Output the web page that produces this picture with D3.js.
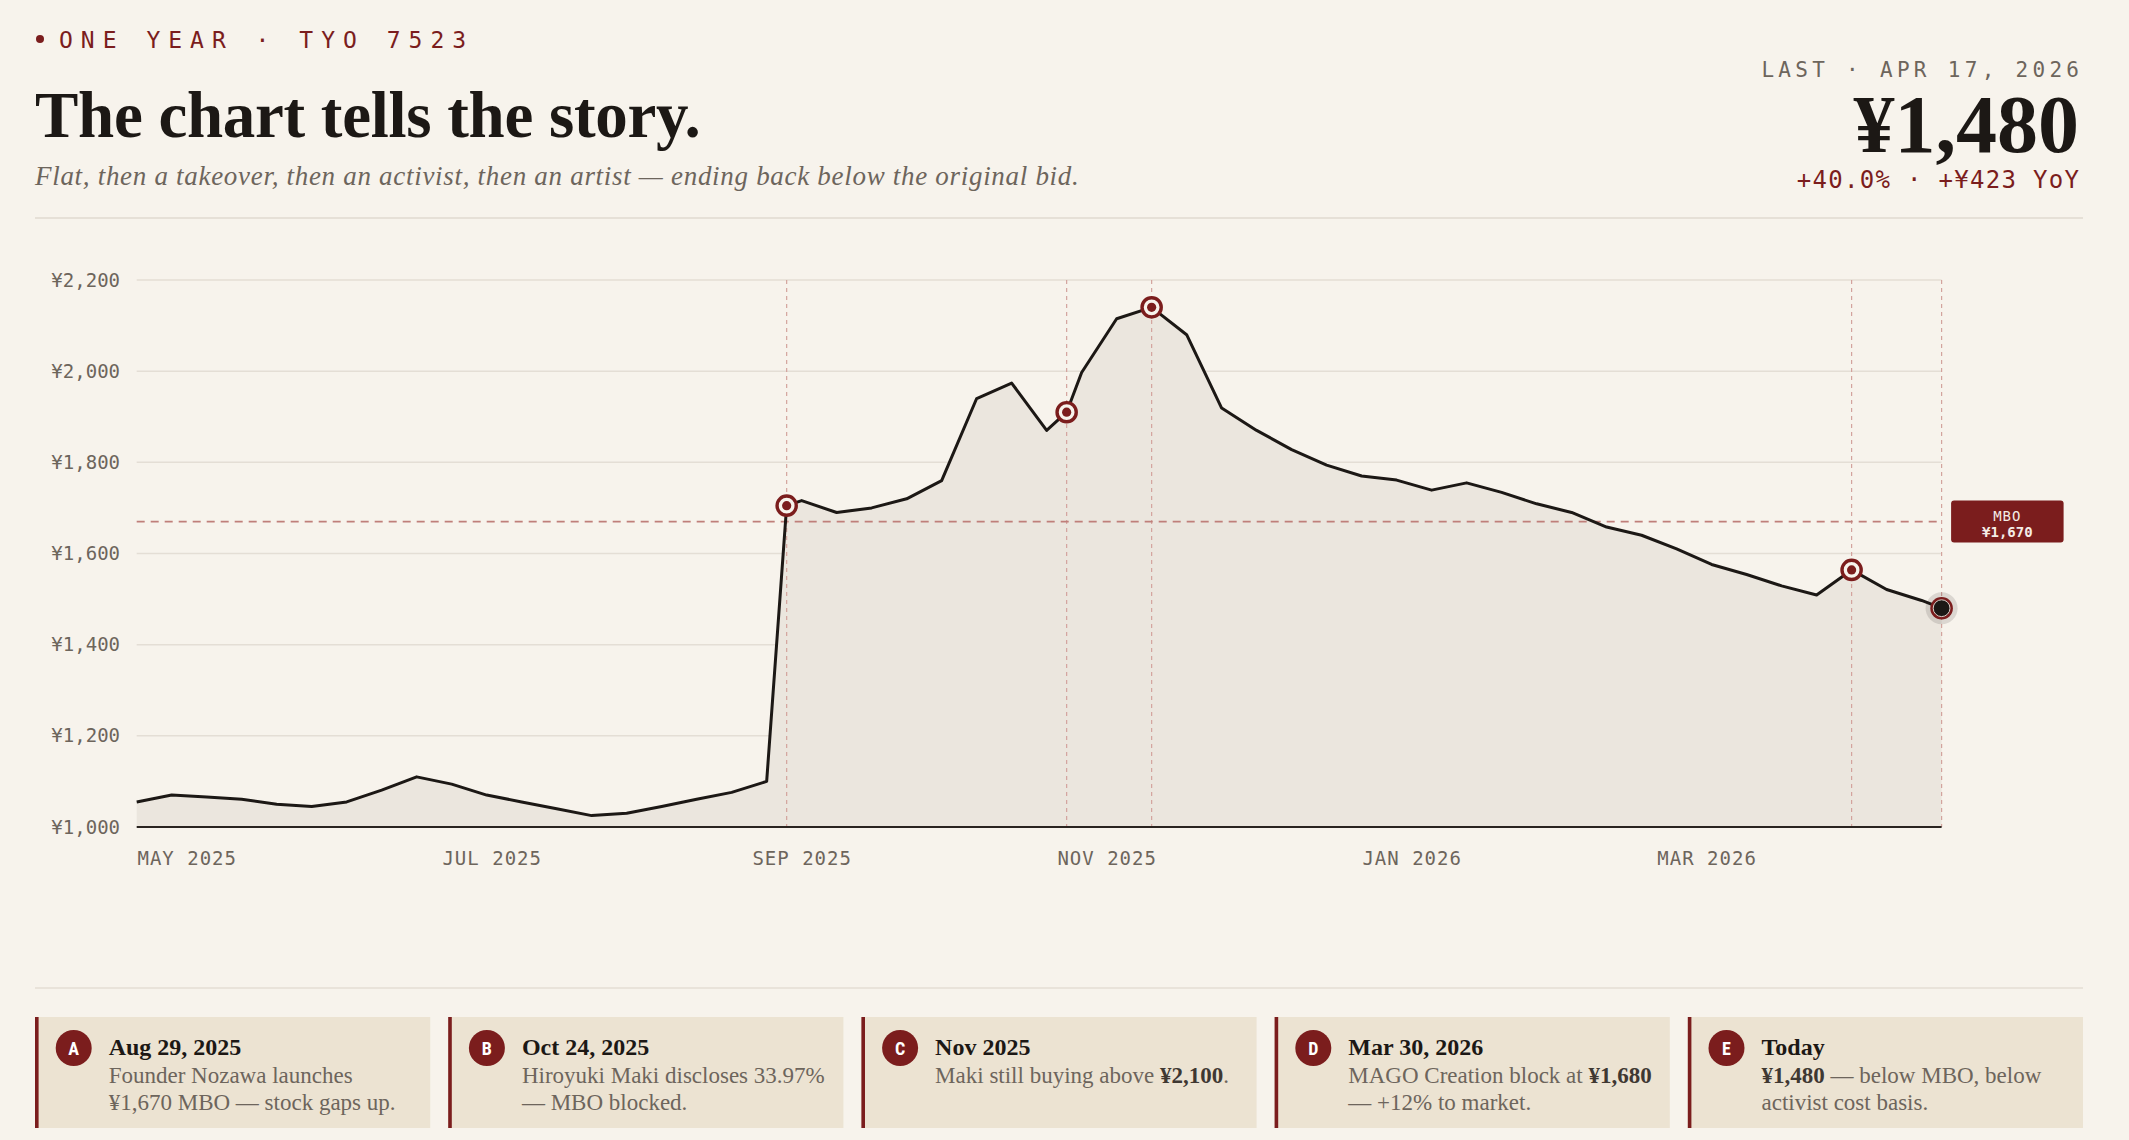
<!DOCTYPE html>
<html>
<head>
<meta charset="utf-8">
<script src="https://cdn.jsdelivr.net/npm/d3@7"></script>
<style>
  html, body { margin: 0; background: #f7f3ec; }
  svg { display: block; }
</style>
</head>
<body>
<svg id="chart" width="2129" height="1140"></svg>
<script>

// weekly closes (Mondays) plus the event days
const dates = [
  "2025-04-21","2025-04-28","2025-05-05","2025-05-12","2025-05-19","2025-05-26",
  "2025-06-02","2025-06-09","2025-06-16","2025-06-23","2025-06-30","2025-07-07",
  "2025-07-14","2025-07-21","2025-07-28","2025-08-04","2025-08-11","2025-08-18",
  "2025-08-25","2025-08-29","2025-09-01","2025-09-08","2025-09-15","2025-09-22",
  "2025-09-29","2025-10-06","2025-10-13","2025-10-20","2025-10-24","2025-10-27",
  "2025-11-03","2025-11-10","2025-11-17","2025-11-24","2025-12-01","2025-12-08",
  "2025-12-15","2025-12-22","2025-12-29","2026-01-05","2026-01-12","2026-01-19",
  "2026-01-26","2026-02-02","2026-02-09","2026-02-16","2026-02-23","2026-03-02",
  "2026-03-09","2026-03-16","2026-03-23","2026-03-30","2026-04-06","2026-04-13",
  "2026-04-17"
];
const prices = [
  1055,1070,1066,1061,1050,1045,
  1055,1081,1110,1094,1070,1055,
  1040,1025,1030,1045,1061,1076,
  1100,1705,1716,1690,1700,1720,
  1760,1940,1974,1870,1910,1997,
  2115,2140,2080,1919,1870,1828,
  1794,1770,1761,1739,1755,1734,
  1709,1690,1658,1640,1610,1576,
  1554,1529,1509,1564,1521,1497,
  1480
];

const yTicks = [1000, 1200, 1400, 1600, 1800, 2000, 2200];
const monthTicks = ["2025-05-01","2025-07-01","2025-09-01","2025-11-01","2026-01-01","2026-03-01"];
const mboPrice = 1670;

// annotated dates (A-D marked on the line, E = last close)
const eventDates = ["2025-08-29","2025-10-24","2025-11-10","2026-03-30"];

const cardLetters = ["A","B","C","D","E"];
const cardTitles = ["Aug 29, 2025","Oct 24, 2025","Nov 2025","Mar 30, 2026","Today"];
const cardLines = [
  ["Founder Nozawa launches", "¥1,670 MBO — stock gaps up."],
  ["Hiroyuki Maki discloses 33.97%", "— MBO blocked."],
  ["Maki still buying above **¥2,100**."],
  ["MAGO Creation block at **¥1,680**", "— +12% to market."],
  ["**¥1,480** — below MBO, below", "activist cost basis."]
];

const header = {
  kicker: "ONE YEAR · TYO 7523",
  title: "The chart tells the story.",
  sub: "Flat, then a takeover, then an activist, then an artist — ending back below the original bid.",
  lastLabel: "LAST · APR 17, 2026",
  last: "¥1,480",
  change: "+40.0% · +¥423 YoY"
};

// ---- styling
const RED = "#7b1d1d";
const INK = "#1c1815";
const GREY = "#6d655c";
const MONO = "'DejaVu Sans Mono', 'Liberation Mono', monospace";
const SERIF = "'Liberation Serif', 'DejaVu Serif', serif";

const svg = d3.select("#chart");

const parse = d3.timeParse("%Y-%m-%d");
const series = dates.map((d, i) => ({ date: parse(d), value: prices[i] }));

const plot = { left: 136.7, right: 1941.6, top: 280, bottom: 827 };

const x = d3.scaleTime()
  .domain(d3.extent(series, d => d.date))
  .range([plot.left, plot.right]);

const y = d3.scaleLinear()
  .domain([1000, 2200])
  .range([plot.bottom, plot.top]);

// ---- header
svg.append("circle").attr("cx", 40).attr("cy", 39).attr("r", 4).attr("fill", RED);
svg.append("text")
  .attr("x", 59).attr("y", 48)
  .style("font-family", MONO).style("font-size", "23px")
  .style("letter-spacing", "8px").attr("fill", RED)
  .text(header.kicker);

svg.append("text")
  .attr("x", 35).attr("y", 137)
  .style("font-family", SERIF).style("font-weight", 700).style("font-size", "65px")
  .style("letter-spacing", "-0.3px")
  .attr("fill", INK)
  .text(header.title);

svg.append("text")
  .attr("x", 35).attr("y", 185)
  .style("font-family", SERIF).style("font-style", "italic").style("font-size", "27px")
  .style("letter-spacing", "0.7px")
  .attr("fill", GREY)
  .text(header.sub);

svg.append("text")
  .attr("x", 2079 + 4.3).attr("y", 77)
  .attr("text-anchor", "end")
  .style("font-family", MONO).style("font-size", "21px").style("letter-spacing", "4.3px")
  .attr("fill", GREY)
  .text(header.lastLabel);

svg.append("text")
  .attr("x", 2079).attr("y", 152)
  .attr("text-anchor", "end")
  .style("font-family", SERIF).style("font-weight", 700).style("font-size", "82px")
  .attr("fill", INK)
  .text(header.last);

svg.append("text")
  .attr("x", 2079 + 1.3).attr("y", 188)
  .attr("text-anchor", "end")
  .style("font-family", MONO).style("font-size", "24px").style("letter-spacing", "1.3px")
  .attr("fill", RED)
  .text(header.change);

svg.append("line")
  .attr("x1", 35).attr("x2", 2083).attr("y1", 218).attr("y2", 218)
  .attr("stroke", "#e6e0d7").attr("stroke-width", 2);

// ---- grid + y axis
svg.append("g")
  .selectAll("line")
  .data(yTicks.filter(d => d !== 1000))
  .join("line")
  .attr("x1", plot.left).attr("x2", plot.right)
  .attr("y1", d => y(d)).attr("y2", d => y(d))
  .attr("stroke", "#e4ded5").attr("stroke-width", 1.5);

svg.append("g")
  .attr("transform", `translate(${plot.left},0)`)
  .call(d3.axisLeft(y).tickValues(yTicks).tickSize(0).tickPadding(16.7)
    .tickFormat(d => "¥" + d3.format(",")(d)))
  .call(g => g.select(".domain").remove())
  .selectAll("text")
  .style("font-family", MONO).style("font-size", "19px")
  .attr("fill", GREY);

// ---- area + line
svg.append("path")
  .datum(series)
  .attr("fill", "#ebe6de")
  .attr("d", d3.area().x(d => x(d.date)).y0(y(1000)).y1(d => y(d.value)));

// event verticals
const vDates = eventDates.concat([dates[dates.length - 1]]).map(parse);
svg.append("g")
  .selectAll("line")
  .data(vDates)
  .join("line")
  .attr("x1", d => x(d)).attr("x2", d => x(d))
  .attr("y1", plot.top).attr("y2", plot.bottom)
  .attr("stroke", "#d3a39d").attr("stroke-width", 1.2)
  .attr("stroke-dasharray", "4,4");

// MBO level
svg.append("line")
  .attr("x1", plot.left).attr("x2", plot.right)
  .attr("y1", y(mboPrice)).attr("y2", y(mboPrice))
  .attr("stroke", "#bf7f7a").attr("stroke-width", 1.8)
  .attr("stroke-dasharray", "8,6");

svg.append("path")
  .datum(series)
  .attr("fill", "none")
  .attr("stroke", INK).attr("stroke-width", 3)
  .attr("stroke-linejoin", "round")
  .attr("d", d3.line().x(d => x(d.date)).y(d => y(d.value)));

// x axis
svg.append("line")
  .attr("x1", plot.left).attr("x2", plot.right)
  .attr("y1", y(1000)).attr("y2", y(1000))
  .attr("stroke", "#2a2420").attr("stroke-width", 2);

svg.append("g")
  .attr("transform", `translate(0,${plot.bottom})`)
  .call(d3.axisBottom(x).tickValues(monthTicks.map(parse)).tickSize(0).tickPadding(24.5)
    .tickFormat(d => d3.timeFormat("%b %Y")(d).toUpperCase()))
  .call(g => g.select(".domain").remove())
  .selectAll("text")
  .style("font-family", MONO).style("font-size", "19px").style("letter-spacing", "1px")
  .attr("fill", GREY);

// ---- markers
const byDate = new Map(series.map(d => [+d.date, d.value]));
const marks = eventDates.map(d => ({ date: parse(d), value: byDate.get(+parse(d)) }));

const mk = svg.append("g").selectAll("g").data(marks).join("g")
  .attr("transform", d => `translate(${x(d.date)},${y(d.value)})`);
mk.append("circle").attr("r", 9.6)
  .attr("fill", "#f7f3ec").attr("stroke", RED).attr("stroke-width", 3.4);
mk.append("circle").attr("r", 4.6).attr("fill", RED);

const last = series[series.length - 1];
const lastG = svg.append("g").attr("transform", `translate(${x(last.date)},${y(last.value)})`);
lastG.append("circle").attr("r", 16).attr("fill", INK).attr("opacity", 0.13);
lastG.append("circle").attr("r", 11.3).attr("fill", RED);
lastG.append("circle").attr("r", 8.4).attr("fill", INK)
  .attr("stroke", "#d9cfc8").attr("stroke-width", 1);

// MBO tag
const tagX = plot.right + 9.5, tagW = 112.5, tagH = 42;
svg.append("rect")
  .attr("x", tagX).attr("y", y(mboPrice) - tagH / 2)
  .attr("width", tagW).attr("height", tagH).attr("rx", 3)
  .attr("fill", RED);
svg.append("text")
  .attr("x", tagX + tagW / 2).attr("y", y(mboPrice) - 1)
  .attr("text-anchor", "middle")
  .style("font-family", MONO).style("font-size", "14px").style("letter-spacing", "1px")
  .attr("fill", "#f4ece6")
  .text("MBO");
svg.append("text")
  .attr("x", tagX + tagW / 2).attr("y", y(mboPrice) + 15)
  .attr("text-anchor", "middle")
  .style("font-family", MONO).style("font-size", "14px").style("font-weight", 700)
  .attr("fill", "#f4ece6")
  .text("¥" + d3.format(",")(mboPrice));

// ---- bottom cards
svg.append("line")
  .attr("x1", 35).attr("x2", 2083).attr("y1", 988).attr("y2", 988)
  .attr("stroke", "#e4ded5").attr("stroke-width", 1.5);

const cardW = 395.2, cardGap = 18, cardTop = 1017, cardH = 111;
const cards = svg.append("g").selectAll("g").data(cardLetters).join("g")
  .attr("transform", (d, i) => `translate(${35 + i * (cardW + cardGap)},${cardTop})`);

cards.append("rect").attr("width", cardW).attr("height", cardH).attr("fill", "#ece3d2");
cards.append("rect").attr("width", 3.6).attr("height", cardH).attr("fill", RED);
cards.append("circle").attr("cx", 38.7).attr("cy", 31).attr("r", 18).attr("fill", RED);
cards.append("text")
  .attr("x", 38.7).attr("y", 37.5).attr("text-anchor", "middle")
  .style("font-family", "'Liberation Sans Narrow', 'Roboto Condensed', Roboto, sans-serif")
  .style("font-weight", 700).style("font-size", "18px")
  .attr("fill", "#fff")
  .text(d => d);

cards.append("text")
  .attr("x", 73.7).attr("y", 38)
  .style("font-family", SERIF).style("font-weight", 700).style("font-size", "24px")
  .attr("fill", INK)
  .text((d, i) => cardTitles[i]);

cards.each(function(d, i) {
  const g = d3.select(this);
  cardLines[i].forEach((line, j) => {
    const t = g.append("text")
      .attr("x", 73.7).attr("y", 65.7 + j * 27.5)
      .style("font-family", SERIF).style("font-size", "23px")
      .attr("fill", GREY);
    line.split("**").forEach((part, k) => {
      if (!part) return;
      const s = t.append("tspan").text(part);
      if (k % 2 === 1) s.style("font-weight", 700).attr("fill", "#3f3832");
    });
  });
});

</script>
</body>
</html>
